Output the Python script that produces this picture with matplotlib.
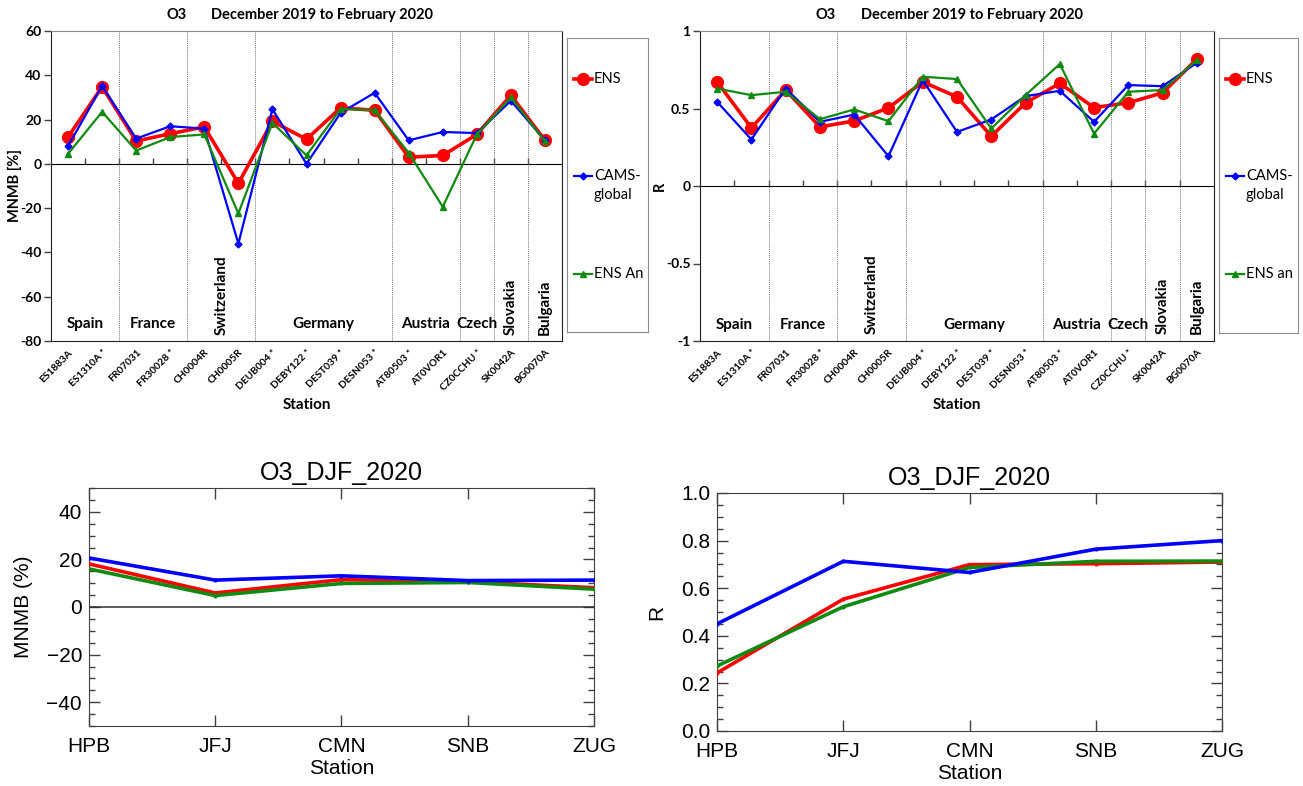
import matplotlib
matplotlib.use("Agg")
import matplotlib.pyplot as plt
from matplotlib.ticker import MultipleLocator


# station statistics, O3, December 2019 to February 2020
STATIONS = ["ES1883A", "ES1310A *", "FR07031", "FR30028 *", "CH0004R", "CH0005R",
            "DEUB004 *", "DEBY122 *", "DEST039 *", "DESN053 *", "AT80503 *", "AT0VOR1",
            "CZ0CCHU *", "SK0042A", "BG0070A"]
COUNTRIES = ["Spain", "Spain", "France", "France", "Switzerland", "Switzerland",
             "Germany", "Germany", "Germany", "Germany", "Austria", "Austria",
             "Czech", "Slovakia", "Bulgaria"]
VERTICAL_NAMES = {"Switzerland", "Slovakia", "Bulgaria"}

MNMB_ENS = [12.1, 34.8, 10.3, 13.6, 16.7, -8.8, 19.2, 11.1, 25.3, 24.2, 3.0, 3.8, 13.3, 31.0, 10.6]
MNMB_CAMS = [8.0, 35.2, 11.4, 17.0, 15.9, -36.0, 24.7, 0.0, 23.0, 32.1, 10.6, 14.4, 13.9, 28.5, 10.6]
MNMB_ENS_AN = [4.5, 23.5, 6.0, 12.1, 13.3, -22.4, 18.5, 3.8, 24.8, 24.2, 5.0, -19.4, 13.3, 30.0, 10.2]

R_ENS = [0.672, 0.375, 0.619, 0.381, 0.420, 0.504, 0.672, 0.575, 0.321, 0.537, 0.662, 0.506, 0.537, 0.601, 0.819]
R_CAMS = [0.543, 0.300, 0.629, 0.414, 0.461, 0.192, 0.683, 0.349, 0.429, 0.580, 0.614, 0.414, 0.651, 0.644, 0.795]
R_ENS_AN = [0.629, 0.586, 0.608, 0.431, 0.494, 0.418, 0.705, 0.690, 0.371, 0.586, 0.787, 0.338, 0.608, 0.619, 0.812]

# mountain sites, O3_DJF_2020
ALPINE = ["HPB", "JFJ", "CMN", "SNB", "ZUG"]
ALP_MNMB_ENS = [18.1, 5.9, 11.5, 10.6, 8.1]
ALP_MNMB_CAMS = [20.6, 11.3, 13.1, 11.1, 11.3]
ALP_MNMB_ENS_AN = [16.0, 4.8, 9.9, 10.3, 7.5]
ALP_R_ENS = [0.244, 0.554, 0.699, 0.703, 0.710]
ALP_R_CAMS = [0.450, 0.713, 0.666, 0.764, 0.800]
ALP_R_ENS_AN = [0.273, 0.522, 0.687, 0.713, 0.714]

RED = "#FF0000"
BLUE = "#0000FF"
GREEN = "#108A10"

W, H = 1303, 786
XL_FONT = "Lato"
IDL_FONT = "Liberation Sans"

# legend rows inside the side boxes (pixels from the box's top-left corner)
LEGEND_ROWS = [41, 138, 236]


def px_rect(x0, y0, x1, y1):
    return [x0 / W, 1 - y1 / H, (x1 - x0) / W, (y1 - y0) / H]


def country_runs(countries):
    runs = []
    start = 0
    for i in range(1, len(countries) + 1):
        if i == len(countries) or countries[i] != countries[start]:
            runs.append((countries[start], start, i - 1))
            start = i
    return runs


def side_legend(fig, box, styles):
    x0, y0, x1, y1 = box
    lax = fig.add_axes(px_rect(x0, y0, x1, y1))
    lax.set_xlim(0, x1 - x0)
    lax.set_ylim(y1 - y0, 0)
    lax.set_xticks([])
    lax.set_yticks([])
    for s in lax.spines.values():
        s.set_color("#8C8C8C")
    for (label, kw), row in zip(styles, LEGEND_ROWS):
        line_kw = {k: v for k, v in kw.items() if k not in ("marker", "ms")}
        mark_kw = {k: v for k, v in kw.items() if k != "lw"}
        lax.plot([7, 25], [row, row], **line_kw)
        lax.plot([16], [row], ls="none", **mark_kw)
        lines = label.split("\n")
        lax.text(27, row, lines[0], ha="left", va="center", fontsize=10.5, family=XL_FONT)
        if len(lines) > 1:
            lax.text(27, row + 19, lines[1], ha="left", va="center", fontsize=10.5,
                     family=XL_FONT)


def station_panel(fig, rect, leg_box, series, ylim, yticks, ylabel, ylabel_x,
                  label_y, vlabel_y, an_label):
    ax = fig.add_axes(rect)
    x = list(range(len(STATIONS)))
    ens, cams, ens_an = series
    styles = [
        ("ENS", dict(color=RED, lw=2.6, marker="o", ms=8.5)),
        ("CAMS-\nglobal", dict(color=BLUE, lw=1.6, marker="D", ms=3.5)),
        (an_label, dict(color=GREEN, lw=1.6, marker="^", ms=5)),
    ]
    for (label, kw), vals, z in zip(styles, (ens, cams, ens_an), (3, 4, 5)):
        ax.plot(x, vals, zorder=z, **kw)

    ax.set_xlim(-0.5, len(STATIONS) - 0.5)
    ax.set_ylim(*ylim)
    labels = [f"{t:g}" for t in yticks]
    ax.set_yticks(yticks, labels, fontsize=10, fontweight="bold", family=XL_FONT)
    ax.tick_params(axis="y", direction="out", length=5, width=1, color="#404040", pad=2)
    ax.set_xticks(x, STATIONS, rotation=45, ha="right", rotation_mode="anchor",
                  fontsize=7.3, fontweight="bold", family=XL_FONT)
    ax.tick_params(axis="x", length=0, pad=5)

    for side in ("left", "bottom", "right"):
        ax.spines[side].set_color("#202020")
    ax.spines["top"].set_color("#8C8C8C")

    # zero line carries the category boundary ticks
    zero_frac = (0 - ylim[0]) / (ylim[1] - ylim[0])
    sec = ax.secondary_xaxis(zero_frac)
    sec.set_xticks([i + 0.5 for i in x[:-1]], [])
    sec.tick_params(direction="out", length=4, width=1, color="#404040")
    sec.spines["bottom"].set_color("#6E6E6E")
    sec.spines["bottom"].set_linewidth(1.1)

    for name, i0, i1 in country_runs(COUNTRIES):
        if i1 < len(STATIONS) - 1:
            ax.axvline(i1 + 0.5, color="#777777", lw=0.7, ls=(0, (1, 1)), zorder=1)
        xc = (i0 + i1) / 2
        if name in VERTICAL_NAMES:
            ax.text(xc, vlabel_y, name, rotation=90, ha="center", va="bottom",
                    fontsize=11, fontweight="bold", family=XL_FONT)
        else:
            ax.text(xc, label_y, name, ha="center", va="center",
                    fontsize=11, fontweight="bold", family=XL_FONT)

    ax.text(0.245, 1.052, "O3", transform=ax.transAxes, ha="center", va="center",
            fontsize=10.5, fontweight="bold", family=XL_FONT)
    ax.text(0.53, 1.052, "December 2019 to February 2020", transform=ax.transAxes,
            ha="center", va="center", fontsize=10.5, fontweight="bold", family=XL_FONT)
    ax.set_xlabel("Station", fontsize=11, fontweight="bold", family=XL_FONT, va="center")
    ax.xaxis.set_label_coords(0.5, -0.206)
    ax.set_ylabel(ylabel, fontsize=10.5, fontweight="bold", family=XL_FONT, va="center")
    ax.yaxis.set_label_coords(ylabel_x, 0.5)

    side_legend(fig, leg_box, styles)
    return ax


def alpine_panel(fig, rect, series, ylim, major, minor, ylabel, ylabel_x, fmt,
                 zero_line, xlabel_y):
    ax = fig.add_axes(rect)
    x = list(range(len(ALPINE)))
    ens, cams, ens_an = series
    ax.plot(x, ens, color=RED, lw=2.6, marker=".", ms=4, zorder=3)
    ax.plot(x, ens_an, color=GREEN, lw=2.6, marker=".", ms=4, zorder=4)
    ax.plot(x, cams, color=BLUE, lw=2.6, marker=".", ms=4, zorder=5)
    if zero_line:
        ax.axhline(0, color="#303030", lw=1.1, zorder=2)

    ax.set_xlim(0, len(ALPINE) - 1)
    ax.set_ylim(*ylim)
    ax.set_xticks(x, ALPINE, fontsize=15, family=IDL_FONT)
    ax.yaxis.set_major_locator(MultipleLocator(major))
    ax.yaxis.set_minor_locator(MultipleLocator(minor))
    ax.yaxis.set_major_formatter(fmt)
    for lab in ax.get_yticklabels():
        lab.set_family(IDL_FONT)
    ax.tick_params(axis="both", which="both", direction="in", top=True, right=True,
                   color="#404040")
    ax.tick_params(axis="both", which="major", length=8, width=1)
    ax.tick_params(axis="y", which="minor", length=4.5, width=1)
    ax.tick_params(axis="x", which="major", pad=8)
    ax.tick_params(axis="y", which="major", pad=5, labelsize=15)
    for s in ax.spines.values():
        s.set_color("#404040")

    ax.set_title("O3_DJF_2020", fontsize=18, family=IDL_FONT, pad=6)
    ax.set_xlabel("Station", fontsize=15, family=IDL_FONT, va="center")
    ax.xaxis.set_label_coords(0.5, xlabel_y)
    ax.set_ylabel(ylabel, fontsize=15, family=IDL_FONT, va="center")
    ax.yaxis.set_label_coords(ylabel_x, 0.5)
    return ax


def main():
    plt.rcParams["font.family"] = [XL_FONT, "DejaVu Sans"]
    fig = plt.figure(figsize=(W / 100, H / 100), dpi=100)
    fig.patch.set_facecolor("white")

    station_panel(fig, px_rect(51, 31, 562, 341), (567, 38, 648, 332),
                  (MNMB_ENS, MNMB_CAMS, MNMB_ENS_AN), (-80, 60), list(range(-80, 61, 20)),
                  "MNMB [%]", -0.07, -72.5, -77.5, "ENS An")
    station_panel(fig, px_rect(700, 31, 1214, 341), (1219, 38, 1298, 333),
                  (R_ENS, R_CAMS, R_ENS_AN), (-1, 1), [-1, -0.5, 0, 0.5, 1],
                  "R", -0.078, -0.894, -0.955, "ENS an")

    alpine_panel(fig, px_rect(89, 488, 594, 726), (ALP_MNMB_ENS, ALP_MNMB_CAMS, ALP_MNMB_ENS_AN),
                 (-50, 50), 20, 5, "MNMB (%)", -0.13, "{x:g}", True, -0.18)
    alpine_panel(fig, px_rect(717, 493, 1222, 731), (ALP_R_ENS, ALP_R_CAMS, ALP_R_ENS_AN),
                 (0, 1), 0.2, 0.05, "R", -0.12, "{x:.1f}", False, -0.178)

    fig.savefig("out.png", dpi=100, facecolor="white")
    plt.close(fig)


if __name__ == "__main__":
    main()
